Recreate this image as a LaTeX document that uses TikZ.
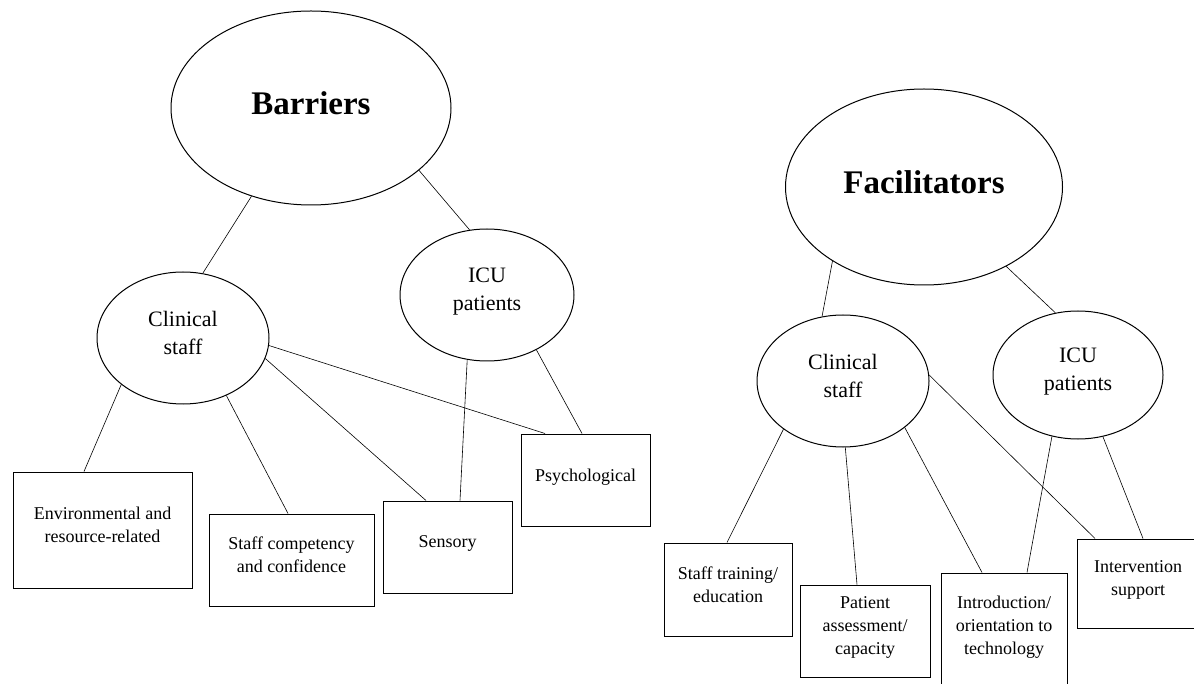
\documentclass[tikz,border=0pt]{standalone}
\usepackage{fontspec}
\setmainfont{Liberation Serif}
\usetikzlibrary{shapes.geometric, positioning}

\begin{document}
\begin{tikzpicture}[x=1pt,y=-1pt]
\tikzset{
  theme/.style={ellipse,draw,line width=1pt,inner sep=0pt,align=center,
    font=\fontsize{33}{36}\selectfont\bfseries},
  group/.style={ellipse,draw,line width=1pt,inner sep=0pt,align=center,
    font=\fontsize{22}{28}\selectfont},
  topic/.style={rectangle,draw,line width=1pt,inner sep=0pt,align=center,
    font=\fontsize{18}{23}\selectfont},
  link/.style={line width=0.6pt}
}
\useasboundingbox (0,0) rectangle (1194,684);

%-- Barriers --
\node[theme, minimum width=280pt, minimum height=194pt] (bar) at (311,108) {Barriers\\[-26pt]};
\node[group, minimum width=172pt, minimum height=132pt] (clinL) at (183,338) {Clinical\\staff\\[-17pt]};
\node[group, minimum width=174pt, minimum height=132pt] (icuL) at (487,295) {ICU\\patients\\[-17pt]};

\node[topic, minimum width=179pt, minimum height=116pt] (env) at (102.5,530) {Environmental and\\resource-related\\[-13pt]};
\node[topic, minimum width=165pt, minimum height=92pt] (comp) at (291.5,560) {Staff competency\\and confidence\\[-13pt]};
\node[topic, minimum width=129pt, minimum height=92pt] (sens) at (447.5,547) {Sensory\\[-13pt]};
\node[topic, minimum width=129pt, minimum height=92pt] (psy) at (585.5,480) {Psychological\\[-13pt]};

%-- Facilitators --
\node[theme, minimum width=277pt, minimum height=196pt] (fac) at (924,187) {Facilitators\\[-26pt]};
\node[group, minimum width=172pt, minimum height=132pt] (clinR) at (843,381) {Clinical\\staff\\[-17pt]};
\node[group, minimum width=170pt, minimum height=128pt] (icuR) at (1078,375) {ICU\\patients\\[-17pt]};

\node[topic, minimum width=128pt, minimum height=93pt] (train) at (728,589.5) {Staff training/\\education\\[-13pt]};
\node[topic, minimum width=130pt, minimum height=92pt] (assess) at (865,631) {Patient\\assessment/\\capacity\\[-13pt]};
\node[topic, minimum width=126pt, minimum height=114pt] (intro) at (1004,630) {Introduction/\\orientation to\\technology\\[-13pt]};
\node[topic, minimum width=122pt, minimum height=89pt] (interv) at (1138,583.5) {Intervention\\support\\[-13pt]};

%-- Links, barriers --
\draw[link] (bar.236) -- (clinL.73);
\draw[link] (bar.330) -- (icuL.105);
\draw[link] (clinL.217) -- ([xshift=-18.5pt]env.north);
\draw[link] (clinL.307) -- ([xshift=-3.5pt]comp.north);
\draw[link] (clinL.346) -- ([xshift=-21.5pt]sens.north);
\draw[link] (clinL.355) -- ([xshift=-40.5pt]psy.north);
\draw[link] (icuL.253) -- ([xshift=12.5pt]sens.north);
\draw[link] (icuL.312) -- ([xshift=-3.5pt]psy.north);

%-- Links, facilitators --
\draw[link] (fac.219) -- (clinR.108);
\draw[link] (fac.316) -- (icuR.110);
\draw[link] (clinR.219) -- ([xshift=-1pt]train.north);
\draw[link] (clinR.272) -- ([xshift=-8pt]assess.north);
\draw[link] (clinR.323) -- ([xshift=-22pt]intro.north);
\draw[link] (clinR.4) -- ([xshift=-43pt]interv.north);
\draw[link] (icuR.247) -- ([xshift=23pt]intro.north);
\draw[link] (icuR.292) -- ([xshift=5pt]interv.north);
\end{tikzpicture}
\end{document}
